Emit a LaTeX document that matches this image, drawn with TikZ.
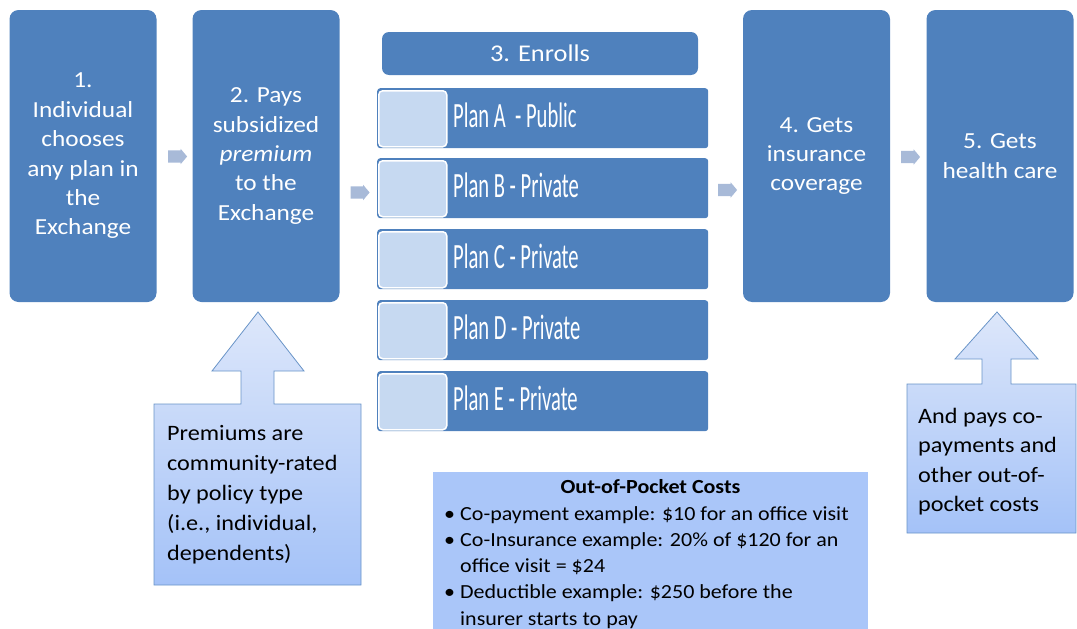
\documentclass[tikz,border=0pt]{standalone}
\usepackage{fontspec}
\setmainfont{Carlito}[FakeStretch=1.1]
\newfontfamily\narrowfont{Carlito}[FakeStretch=0.58]
\usetikzlibrary{shapes.arrows}
\definecolor{boxblue}{HTML}{4F81BD}
\definecolor{lightsq}{HTML}{C6D9F1}
\definecolor{chev}{HTML}{A8BAD8}
\definecolor{calltop}{HTML}{DDE7FA}
\definecolor{callbot}{HTML}{A4C2F8}
\definecolor{oopfill}{HTML}{AAC6F9}
\tikzset{
  stepbox/.style={fill=boxblue, rounded corners=9pt, minimum width=147pt, minimum height=292pt,
    text=white, align=center, inner sep=0pt, font=\fontsize{23}{29.4}\selectfont},
  enrollbox/.style={fill=boxblue, rounded corners=7pt, minimum width=316pt, minimum height=43pt,
    text=white, inner sep=0pt, font=\fontsize{24}{28}\selectfont},
  planbox/.style={fill=boxblue, rounded corners=3pt, minimum width=331pt, minimum height=60pt,
    inner sep=0pt, anchor=north west},
  plansq/.style={fill=lightsq, draw=white, line width=1.5pt, rounded corners=4pt,
    minimum width=68pt, minimum height=56pt, inner sep=0pt, anchor=north west},
  plantext/.style={text=white, inner sep=0pt, anchor=base west, font=\narrowfont\fontsize{35.5}{40}\selectfont},
  chevarrow/.style={shape=single arrow, fill=chev, minimum height=19pt, minimum width=15pt,
    single arrow head extend=1.5pt, inner xsep=0pt, inner ysep=6pt, single arrow tip angle=100},
  callout/.style={top color=calltop, bottom color=callbot, draw=boxblue!85, line width=0.8pt},
  calltext/.style={inner sep=0pt, anchor=base west, text=black},
}
\begin{document}
\begin{tikzpicture}[x=1pt,y=-1pt]
\useasboundingbox (0,0) rectangle (1077,629);

% main steps
\node[stepbox] (b1) at (83,156) {1.\\Individual\\chooses\\any plan in\\the\\Exchange};
\node[stepbox] (b2) at (266,156) {2. Pays\\subsidized\\\textit{premium}\\to the\\Exchange};
\node[stepbox] (b4) at (816.5,156) {4. Gets\\insurance\\coverage};
\node[stepbox] (b5) at (1000,156) {5. Gets\\health care};

% enrolls
\node[enrollbox] (enr) at (540,53.5) {3. Enrolls};

% plans
\foreach \nm/\lab/\yy in {A/{Plan A\ \ - Public}/88, B/{Plan B - Private}/158, C/{Plan C - Private}/229, D/{Plan D - Private}/300, E/{Plan E - Private}/371}{
  \node[planbox] (plan\nm) at (377,\yy) {};
  \node[plansq] (sq\nm) at (378,\yy+2) {};
  \node[plantext] (pt\nm) at (453,\yy+39) {\lab};
}

% small chevron arrows
\node[chevarrow] (ar12) at (175,156.5) {};
\node[chevarrow] (ar23) at (357.5,192.5) {};
\node[chevarrow] (ar34) at (725,190) {};
\node[chevarrow] (ar45) at (908,157) {};

% left callout
\draw[callout] (154,585) -- (154,404) -- (241,404) -- (241,371) -- (212,371) -- (258,312)
  -- (304,371) -- (274,371) -- (274,404) -- (361,404) -- (361,585) -- cycle;
\node[calltext] (ct1) at (167,440) {\fontsize{22}{30}\selectfont
  \begin{tabular}[t]{@{}l@{}}Premiums are\\community-rated\\by policy type\\(i.e., individual,\\dependents)\end{tabular}};

% right callout
\draw[callout] (907,533) -- (907,384) -- (982,384) -- (982,359) -- (955,359) -- (997,312)
  -- (1038,359) -- (1011,359) -- (1011,384) -- (1076,384) -- (1076,533) -- cycle;
\node[calltext] (ct2) at (918,423) {\fontsize{22}{29.5}\selectfont
  \begin{tabular}[t]{@{}l@{}}And pays co-\\payments and\\other out-of-\\pocket costs\end{tabular}};

% out-of-pocket box
\node[fill=oopfill, minimum width=435pt, minimum height=160pt, inner sep=0pt, anchor=north west] (oop) at (433,472) {};
\node[inner sep=0pt, anchor=base] (ooptitle) at (650.5,493) {\fontsize{20}{26}\selectfont\bfseries Out-of-Pocket Costs};
\node[calltext] (oopitems) at (444,520) {\fontsize{20}{26.3}\selectfont
  \begin{tabular}[t]{@{}l@{}l@{}}
  \makebox[16pt][l]{\textbullet} & Co-payment example: \$10 for an office visit\\
  \makebox[16pt][l]{\textbullet} & Co-Insurance example: 20\% of \$120 for an\\
   & office visit = \$24\\
  \makebox[16pt][l]{\textbullet} & Deductible example: \$250 before the\\
   & insurer starts to pay
  \end{tabular}};
\end{tikzpicture}
\end{document}
